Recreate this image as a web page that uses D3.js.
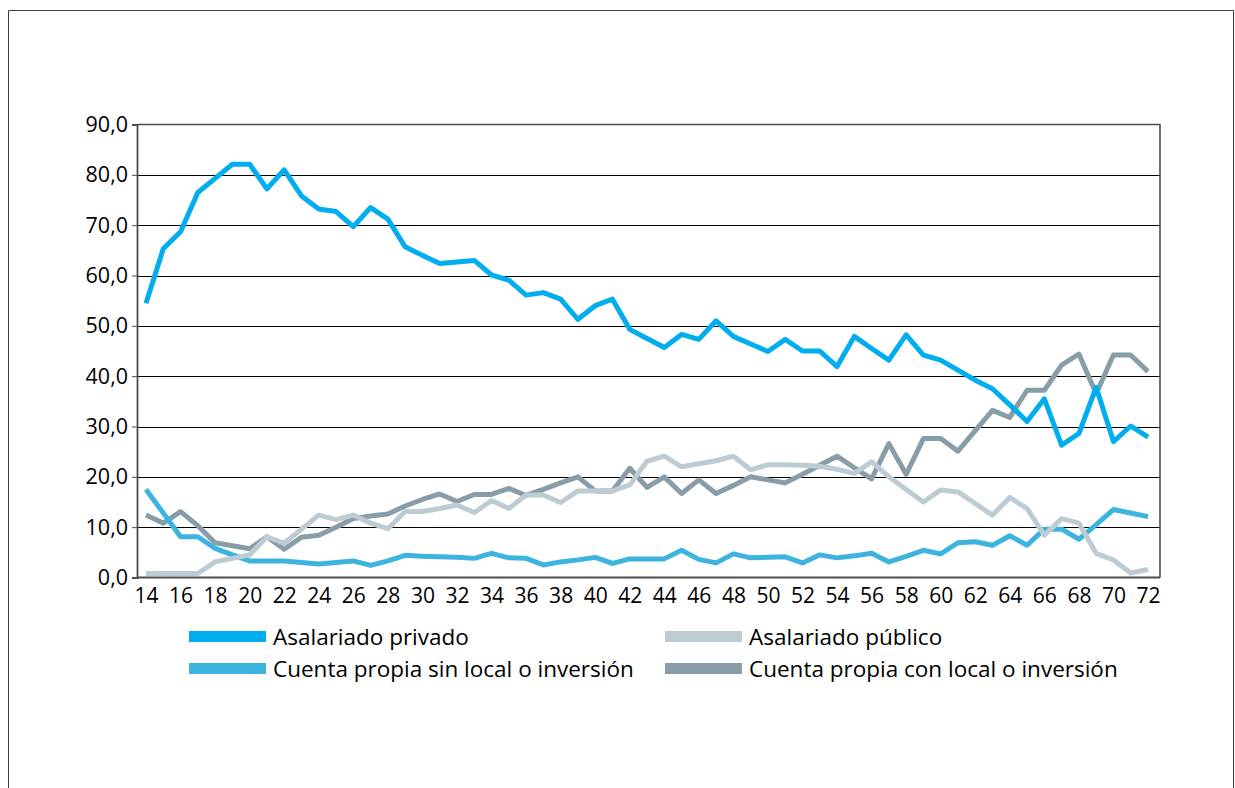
<!DOCTYPE html>
<html>
<head>
<meta charset="utf-8">
<script src="https://cdn.jsdelivr.net/npm/d3@7"></script>
<style>
  body { margin: 0; background: #fff; }
  svg { display: block; }
  text { font-family: "Open Sans", sans-serif; fill: #000; }
</style>
</head>
<body>
<div id="chart"></div>
<script>
// ages (categories)
const ages = [14,15,16,17,18,19,20,21,22,23,24,25,26,27,28,29,30,31,32,33,34,35,36,37,38,39,40,41,42,43,
  44,45,46,47,48,49,50,51,52,53,54,55,56,57,58,59,60,61,62,63,64,65,66,67,68,69,70,71,72];
const xTickLabels = [14,16,18,20,22,24,26,28,30,32,34,36,38,40,42,44,46,48,50,52,54,56,58,60,62,64,66,68,70,72];
const yTickLabels = [0,10,20,30,40,50,60,70,80,90];

// series values (%)
const asalariadoPrivado = [54.5,65.3,68.7,76.5,79.3,82.1,82.1,77.2,81.0,75.8,73.2,72.7,69.7,73.5,71.2,65.7,64.0,62.4,62.7,63.0,
  60.1,59.1,56.1,56.6,55.3,51.3,54.0,55.3,49.3,47.5,45.7,48.3,47.3,51.0,47.9,46.4,44.9,47.3,45.0,45.0,
  41.9,47.9,45.5,43.2,48.2,44.2,43.2,41.2,39.2,37.5,34.3,31.0,35.5,26.3,28.6,37.8,27.0,30.1,27.9];
const asalariadoPublico = [0.8,0.8,0.8,0.8,3.1,3.8,4.5,8.1,6.8,9.6,12.4,11.5,12.4,10.8,9.7,13.1,13.1,13.7,14.4,12.9,
  15.3,13.7,16.4,16.4,14.9,17.2,17.2,17.2,18.4,23.1,24.1,22.0,22.6,23.2,24.1,21.4,22.4,22.4,22.3,22.1,
  21.5,20.7,23.0,20.0,17.5,15.0,17.4,17.0,14.7,12.4,15.9,13.7,8.4,11.7,10.8,4.8,3.5,0.9,1.6];
const sinLocal = [17.5,12.8,8.1,8.1,5.8,4.5,3.3,3.3,3.3,3.0,2.7,3.0,3.3,2.4,3.3,4.4,4.2,4.1,4.0,3.8,
  4.8,3.9,3.8,2.5,3.1,3.5,4.0,2.8,3.7,3.7,3.7,5.4,3.6,2.9,4.7,3.9,4.0,4.1,2.9,4.5,
  3.9,4.3,4.8,3.1,4.2,5.4,4.7,6.9,7.1,6.4,8.3,6.4,9.6,9.6,7.6,10.5,13.5,12.8,12.1];
const conLocal = [12.4,10.8,13.1,10.3,6.9,6.3,5.7,8.1,5.6,8.0,8.4,10.0,11.7,12.2,12.6,14.2,15.5,16.6,15.1,16.5,
  16.5,17.7,16.3,17.5,18.8,20.0,17.2,17.2,21.7,17.9,20.0,16.7,19.4,16.7,18.3,20.0,19.4,18.8,20.5,22.3,
  24.1,21.8,19.6,26.6,20.5,27.6,27.6,25.1,29.2,33.2,31.8,37.2,37.2,42.2,44.4,36.5,44.2,44.2,40.9];

const seriesNames = ["Asalariado privado", "Asalariado público",
  "Cuenta propia sin local o inversión", "Cuenta propia con local o inversión"];
const seriesColors = ["#00aeef", "#bdcbd3", "#3db4e0", "#889da8"];
const seriesValues = [asalariadoPrivado, asalariadoPublico, sinLocal, conLocal];

const width = 1235, height = 788;
const plot = {left: 137, right: 1160, top: 124.5, bottom: 577.5};

const svg = d3.select("#chart")
  .append("svg")
    .attr("width", width)
    .attr("height", height);

// outer frame
svg.append("path")
  .attr("d", `M8.5,${height} V10.5 H1233.5 V${height}`)
  .attr("fill", "none")
  .attr("stroke", "#404040")
  .attr("stroke-width", 1);

const x = d3.scaleLinear()
  .domain([14, 72])
  .range([plot.left + 9, plot.right - 12]);

const y = d3.scaleLinear()
  .domain([0, 90])
  .range([plot.bottom, plot.top]);

const fmt = d3.formatLocale({decimal: ",", thousands: ".", grouping: [3], currency: ["", ""]}).format(".1f");

// gridlines
svg.append("g")
  .selectAll("line")
  .data(yTickLabels.filter(d => d > 0 && d < 90))
  .join("line")
    .attr("x1", plot.left)
    .attr("x2", plot.right)
    .attr("y1", d => Math.round(y(d)) + 0.5)
    .attr("y2", d => Math.round(y(d)) + 0.5)
    .attr("stroke", "#000")
    .attr("stroke-width", 1);

// top and right border of the plot
svg.append("path")
  .attr("d", `M${plot.left},${y(90)} H${plot.right} V${plot.bottom}`)
  .attr("fill", "none")
  .attr("stroke", "#4d4d4d")
  .attr("stroke-width", 1.6);

// Y axis
const yAxis = svg.append("g")
  .attr("transform", `translate(${plot.left}, 0)`)
  .call(d3.axisLeft(y).tickValues(yTickLabels).tickFormat(fmt).tickSize(5).tickPadding(4));
yAxis.select(".domain").attr("stroke", "#4d4d4d").attr("stroke-width", 1.8);
yAxis.selectAll(".tick line").attr("stroke", "#4d4d4d");
yAxis.selectAll("text").style("font-size", "21.5px").attr("fill", "#000");

// X axis
const xAxis = svg.append("g")
  .attr("transform", `translate(0, ${plot.bottom})`)
  .call(d3.axisBottom(x).tickValues(xTickLabels).tickFormat(d3.format("d")).tickSize(0).tickPadding(11));
xAxis.select(".domain")
  .attr("d", `M${plot.left},0H${plot.right}`)
  .attr("stroke", "#4d4d4d").attr("stroke-width", 2);
xAxis.selectAll("text").style("font-size", "21px").attr("fill", "#000");

// lines (drawn in reverse so that the first series sits on top)
const line = d3.line()
  .x((d, i) => x(ages[i]))
  .y(d => y(d));

svg.append("g")
  .selectAll("path")
  .data(seriesValues.map((v, i) => ({v, i})).reverse())
  .join("path")
    .attr("d", d => line(d.v))
    .attr("fill", "none")
    .attr("stroke", d => seriesColors[d.i])
    .attr("stroke-width", 5)
    .attr("stroke-linejoin", "round");

// legend
const legendPos = [
  {x: 189, y: 636.5},
  {x: 665, y: 636.5},
  {x: 189, y: 668.5},
  {x: 665, y: 668.5}
];
const legend = svg.append("g")
  .selectAll("g")
  .data(seriesNames)
  .join("g")
    .attr("transform", (d, i) => `translate(${legendPos[i].x}, ${legendPos[i].y})`);
legend.append("rect")
  .attr("x", 0)
  .attr("y", -5.5)
  .attr("width", 77)
  .attr("height", 11)
  .attr("fill", (d, i) => seriesColors[i]);
legend.append("text")
  .attr("x", 84)
  .attr("y", 0)
  .attr("dy", "0.36em")
  .style("font-size", "22.5px")
  .text(d => d);
</script>
</body>
</html>
